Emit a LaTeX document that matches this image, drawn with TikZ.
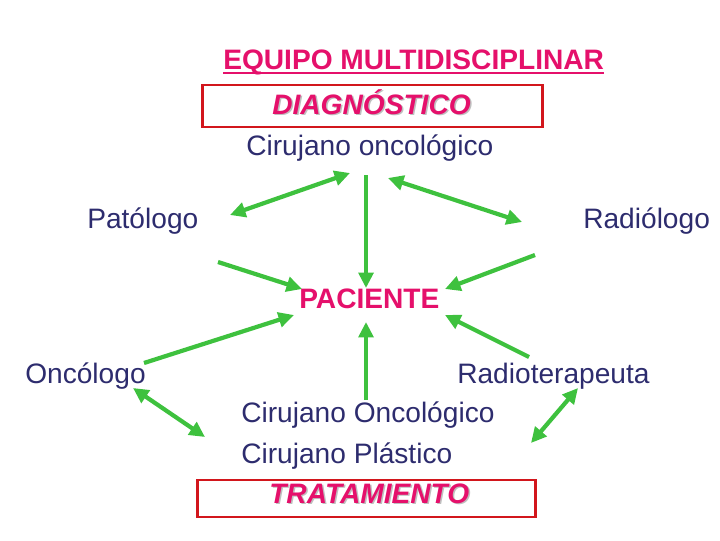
\documentclass[tikz,border=0pt]{standalone}
\usepackage{fontspec}
\setmainfont{Liberation Sans}
\usetikzlibrary{arrows.meta}
\definecolor{pinktxt}{HTML}{E5106B}
\definecolor{navytxt}{HTML}{2D2C6E}
\definecolor{arrowgreen}{HTML}{3EC13E}
\definecolor{boxred}{HTML}{D2161C}
\begin{document}
\begin{tikzpicture}[x=0.025cm,y=-0.025cm,
  lbl/.style={inner sep=0pt,anchor=base west,text=navytxt,font=\fontsize{20}{24}\selectfont},
  head/.style={inner sep=0pt,anchor=base west,text=pinktxt,font=\fontsize{20}{24}\selectfont\bfseries},
  headit/.style={head,font=\fontsize{20}{24}\selectfont\bfseries\itshape},
  shade/.style={headit,text=black!25},
  frame/.style={draw=boxred,line width=2.1pt,inner sep=0pt},
  link/.style={draw=arrowgreen,line width=3pt,-{Triangle[length=11pt,width=10.5pt]}},
  dlink/.style={link,{Triangle[length=11pt,width=10.5pt]}-{Triangle[length=11pt,width=10.5pt]}}]
\useasboundingbox (0,0) rectangle (720,540);
\node[head] (title) at (223,69) {EQUIPO MULTIDISCIPLINAR};
\draw[pinktxt,line width=1.4pt] ([yshift=-3pt]title.base west) -- ([yshift=-3pt]title.base east);
\node[frame,minimum width=8.475cm,minimum height=1.05cm] (diagbox) at (372.5,106) {};
\node[shade] (diagsh) at (273.5,115.5) {DIAGNÓSTICO};
\node[headit] (diag) at (272,114) {DIAGNÓSTICO};
\node[lbl] (cirdiag) at (246,155) {Cirujano oncológico};
\node[lbl] (pato) at (87,228) {Patólogo};
\node[lbl] (radio) at (583,228) {Radiólogo};
\node[head] (pac) at (299,308) {PACIENTE};
\node[lbl] (onco) at (25,383) {Oncólogo};
\node[lbl] (radiot) at (457,383) {Radioterapeuta};
\node[lbl] (cironc) at (241,422) {Cirujano Oncológico};
\node[lbl] (cirpla) at (241,463) {Cirujano Plástico};
\node[frame,minimum width=8.425cm,minimum height=0.925cm] (tratbox) at (366.5,498.5) {};
\node[shade] (tratsh) at (270.5,504.5) {TRATAMIENTO};
\node[headit] (trat) at (269,503) {TRATAMIENTO};
\coordinate (pa) at (230,215);
\coordinate (pb) at (350,173);
\coordinate (ra) at (388,178);
\coordinate (rb) at (522,222);
\coordinate (ct) at (366,175);
\coordinate (pt1) at (302,289);
\coordinate (pt2) at (366,288);
\coordinate (pt3) at (445,289);
\coordinate (pato1) at (218,262);
\coordinate (radio1) at (535,255);
\coordinate (onco1) at (144,363);
\coordinate (pb1) at (294,315);
\coordinate (pb2) at (366,322);
\coordinate (pb3) at (445,315);
\coordinate (cb) at (366,400);
\coordinate (radiot1) at (529,357);
\coordinate (oa) at (133,388);
\coordinate (ob) at (205,437);
\coordinate (ta) at (578,388);
\coordinate (tb) at (531,443);
\draw[dlink] (pa) -- (pb);
\draw[dlink] (ra) -- (rb);
\draw[link] (ct) -- (pt2);
\draw[link] (pato1) -- (pt1);
\draw[link] (radio1) -- (pt3);
\draw[link] (onco1) -- (pb1);
\draw[link] (cb) -- (pb2);
\draw[link] (radiot1) -- (pb3);
\draw[dlink] (oa) -- (ob);
\draw[dlink] (ta) -- (tb);
\end{tikzpicture}
\end{document}
